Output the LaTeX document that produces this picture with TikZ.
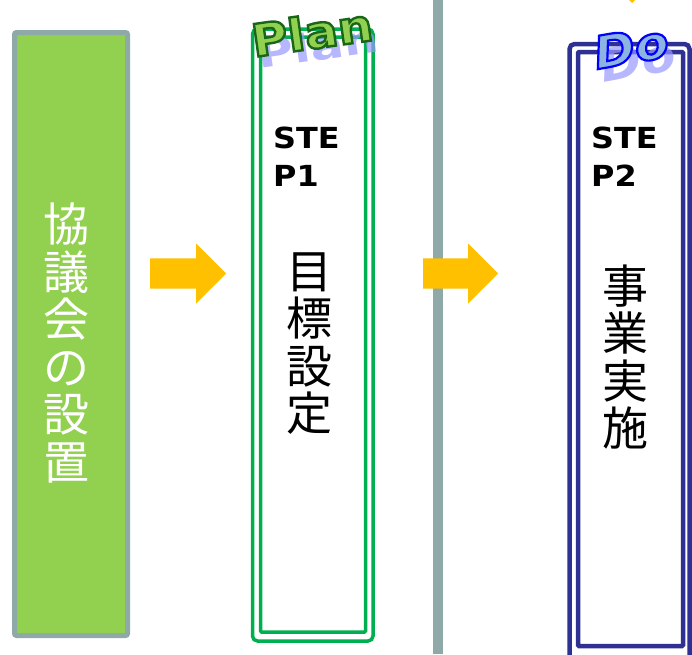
\documentclass[tikz,border=0pt]{standalone}
\usepackage{fontspec}
\setmainfont{DejaVu Sans}
\newfontfamily\cjk{Noto Sans CJK JP}
\newfontfamily\stepfont[FakeStretch=1.1]{DejaVu Sans}
\usepackage{xcolor}
\usetikzlibrary{shapes.arrows,positioning}
\definecolor{leaf}{HTML}{92D050}
\definecolor{slate}{HTML}{8FA8A8}
\definecolor{plangreen}{HTML}{00B050}
\definecolor{navy}{HTML}{2E3192}
\definecolor{amber}{HTML}{FFC000}
\definecolor{lavender}{HTML}{9999FF}
\definecolor{skyfill}{HTML}{8DB3E2}
\newcommand\outlinetext[3]{\special{pdf:literal direct #2 RG #1 w 2 Tr}#3\special{pdf:literal direct 0 Tr}}
\tikzset{
  flowarrow/.style={single arrow, fill=amber, draw=none, inner xsep=0pt, inner ysep=15pt,
    minimum width=60pt, single arrow head extend=15pt, anchor=tail},
  stack/.style={font=\cjk\fontsize{46}{47.5}\selectfont, align=center, inner sep=0pt},
  steplabel/.style={font=\stepfont\bfseries\fontsize{29}{38}\selectfont, align=left,
    inner sep=0pt, anchor=north west},
  frame/.style={draw, rounded corners=5pt, inner sep=0pt},
  wordart/.style={inner sep=0pt, font=\stepfont\bfseries\fontsize{45}{45}\selectfont},
}

\begin{document}
\begin{tikzpicture}[x=1pt,y=-1pt]
  \useasboundingbox (0,0) rectangle (692,654);
  \fill[white] (0,0) rectangle (692,654);
  \node[draw=slate, fill=leaf, line width=5pt, rounded corners=2pt,
        minimum width=113pt, minimum height=603pt] (council) at (71,334) {};
  \node[stack, text=white] (counciltext) at (66,343) {協\\議\\会\\の\\設\\置};

  \node[flowarrow, minimum height=76pt] (arrowA) at (150,273.5) {};

  \node[frame, plangreen, line width=3.5pt, minimum width=120.5pt, minimum height=612pt] (planouter) at (312.75,335) {};
  \node[frame, plangreen, line width=3.5pt, rounded corners=1pt, minimum width=105pt, minimum height=595pt] (planinner) at (313,334.5) {};
  \node[steplabel] (stepA) at (273,127) {STE\\P1};
  \node[stack] (plantext) at (309,343.5) {目\\標\\設\\定};
  \node[wordart, rotate=8, text=lavender, opacity=0.7, yscale=0.85] (planshadow) at (318,46) {Plan};
  \node[wordart, rotate=8, text=leaf] (planword) at (312,32) {\outlinetext{2.4}{0.1 0.4 0.1}{Plan}};

  \draw[slate, line width=10pt] (438,0) -- (438,654);

  \node[flowarrow, minimum height=75pt] (arrowB) at (423,273.5) {};

  \node[frame, navy, line width=4.5pt, minimum width=120pt, minimum height=618pt] (doouter) at (629.5,353) {};
  \node[frame, navy, line width=4.5pt, rounded corners=1pt, minimum width=105pt, minimum height=594pt] (doinner) at (630.5,349) {};
  \node[steplabel] (stepB) at (591,127) {STE\\P2};
  \node[stack] (dotext) at (625,357) {事\\業\\実\\施};
  \node[wordart, rotate=10, text=lavender, opacity=0.7] (doshadow) at (638,60) {\itshape Do};
  \node[wordart, rotate=10, text=skyfill] (doword) at (631,47) {\itshape\outlinetext{2.2}{0 0 1}{Do}};

  \fill[amber] (629,0) -- (635,0) -- (632,3) -- cycle;
\end{tikzpicture}
\end{document}
